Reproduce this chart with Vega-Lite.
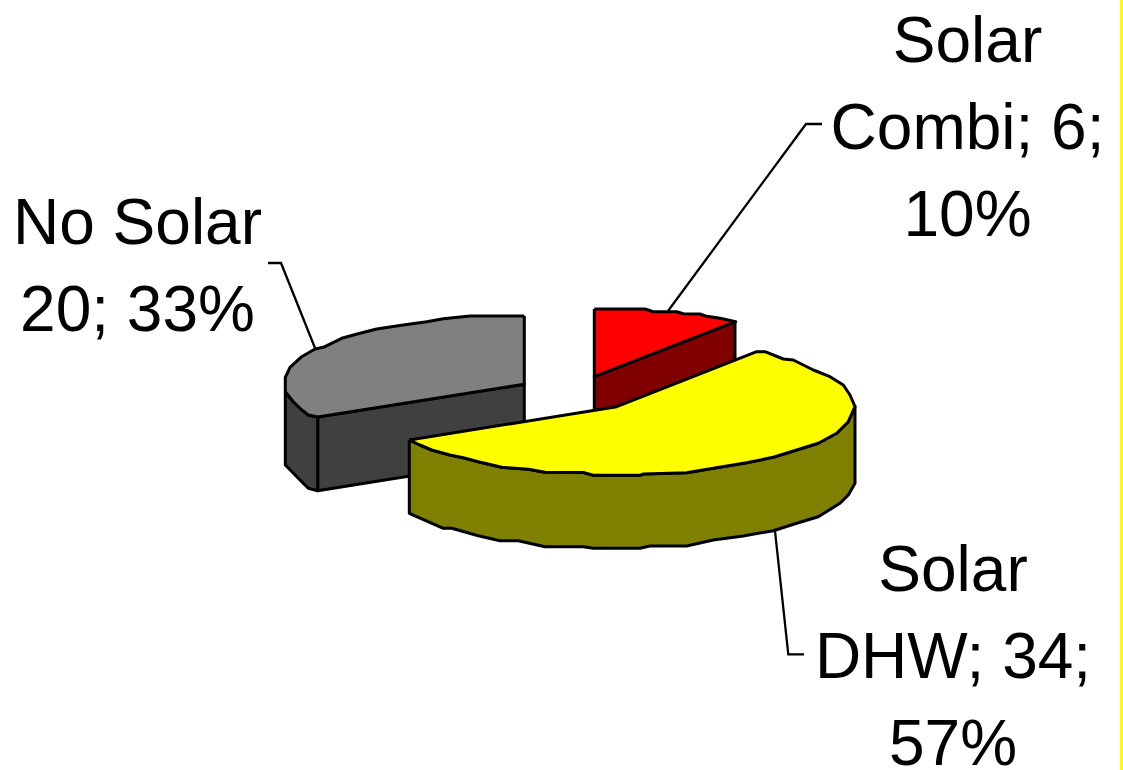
{
  "$schema": "https://vega.github.io/schema/vega-lite/v6.json",
  "autosize": {"type": "none"},
  "width": 1123,
  "height": 770,
  "padding": 0,
  "background": "white",
  "view": {"stroke": null},
  "datasets": {
    "faces": [
      {"face":"No Solar front","x":317.7,"y":417},{"face":"No Solar front","x":524.3,"y":384.3},{"face":"No Solar front","x":524.3,"y":457.7},{"face":"No Solar front","x":317.7,"y":490.7},{"face":"No Solar front","x":317.7,"y":417},

      {"face":"No Solar rim","x":285.3,"y":391.7},{"face":"No Solar rim","x":293.3,"y":401.7},{"face":"No Solar rim","x":300,"y":408.3},{"face":"No Solar rim","x":308.3,"y":415},{"face":"No Solar rim","x":317.7,"y":417},{"face":"No Solar rim","x":317.7,"y":490.7},{"face":"No Solar rim","x":308.3,"y":488.3},{"face":"No Solar rim","x":301.7,"y":481.7},{"face":"No Solar rim","x":285.3,"y":465},{"face":"No Solar rim","x":285.3,"y":391.7},

      {"face":"No Solar top","x":524.3,"y":316},{"face":"No Solar top","x":470,"y":316},{"face":"No Solar top","x":443.3,"y":318.7},{"face":"No Solar top","x":426.7,"y":321.7},{"face":"No Solar top","x":403.3,"y":325},{"face":"No Solar top","x":376.7,"y":329},{"face":"No Solar top","x":360,"y":333.3},{"face":"No Solar top","x":341.7,"y":338.3},{"face":"No Solar top","x":323.3,"y":347.3},{"face":"No Solar top","x":315,"y":349},{"face":"No Solar top","x":301.7,"y":356.7},{"face":"No Solar top","x":290,"y":367.3},{"face":"No Solar top","x":285.3,"y":377.3},{"face":"No Solar top","x":285.3,"y":391.7},{"face":"No Solar top","x":293.3,"y":401.7},{"face":"No Solar top","x":300,"y":408.3},{"face":"No Solar top","x":308.3,"y":415},{"face":"No Solar top","x":317.7,"y":417},{"face":"No Solar top","x":524.3,"y":384.3},{"face":"No Solar top","x":524.3,"y":316},

      {"face":"Solar Combi side","x":735,"y":321.7},{"face":"Solar Combi side","x":594.3,"y":376.7},{"face":"Solar Combi side","x":594.3,"y":450},{"face":"Solar Combi side","x":735,"y":394},{"face":"Solar Combi side","x":735,"y":321.7},

      {"face":"Solar Combi top","x":594.3,"y":309},{"face":"Solar Combi top","x":645,"y":309},{"face":"Solar Combi top","x":653.3,"y":311.7},{"face":"Solar Combi top","x":676.7,"y":311.7},{"face":"Solar Combi top","x":683.3,"y":313.7},{"face":"Solar Combi top","x":700,"y":314},{"face":"Solar Combi top","x":706.7,"y":316.3},{"face":"Solar Combi top","x":720,"y":318.3},{"face":"Solar Combi top","x":735.7,"y":321.7},{"face":"Solar Combi top","x":594.3,"y":376.7},{"face":"Solar Combi top","x":594.3,"y":309},

      {"face":"Solar DHW rim","x":409.3,"y":440},{"face":"Solar DHW rim","x":420,"y":445},{"face":"Solar DHW rim","x":431.7,"y":450},{"face":"Solar DHW rim","x":441.7,"y":452.7},{"face":"Solar DHW rim","x":450,"y":455},{"face":"Solar DHW rim","x":463.3,"y":457.7},{"face":"Solar DHW rim","x":478.3,"y":461.7},{"face":"Solar DHW rim","x":501.7,"y":467.3},{"face":"Solar DHW rim","x":528.3,"y":469.3},{"face":"Solar DHW rim","x":545,"y":472.3},{"face":"Solar DHW rim","x":583.3,"y":472.5},{"face":"Solar DHW rim","x":593.3,"y":475.3},{"face":"Solar DHW rim","x":640,"y":475.3},{"face":"Solar DHW rim","x":643.3,"y":474},{"face":"Solar DHW rim","x":686.7,"y":472.7},{"face":"Solar DHW rim","x":713.3,"y":468.3},{"face":"Solar DHW rim","x":746.7,"y":462.7},{"face":"Solar DHW rim","x":773.3,"y":457.3},{"face":"Solar DHW rim","x":796.7,"y":450},{"face":"Solar DHW rim","x":818.3,"y":443.3},{"face":"Solar DHW rim","x":836.7,"y":433.3},{"face":"Solar DHW rim","x":848.3,"y":421.7},{"face":"Solar DHW rim","x":855,"y":406.7},{"face":"Solar DHW rim","x":855,"y":483.3},{"face":"Solar DHW rim","x":848.3,"y":495},{"face":"Solar DHW rim","x":840,"y":503.3},{"face":"Solar DHW rim","x":818.3,"y":516.7},{"face":"Solar DHW rim","x":796.7,"y":523.3},{"face":"Solar DHW rim","x":773.3,"y":530.7},{"face":"Solar DHW rim","x":743.3,"y":536},{"face":"Solar DHW rim","x":713.3,"y":540},{"face":"Solar DHW rim","x":686.7,"y":546},{"face":"Solar DHW rim","x":650,"y":546},{"face":"Solar DHW rim","x":640,"y":548.3},{"face":"Solar DHW rim","x":593.3,"y":548.3},{"face":"Solar DHW rim","x":583.3,"y":546.7},{"face":"Solar DHW rim","x":545,"y":546.7},{"face":"Solar DHW rim","x":518.3,"y":540.7},{"face":"Solar DHW rim","x":500,"y":540.7},{"face":"Solar DHW rim","x":478.3,"y":535.7},{"face":"Solar DHW rim","x":451.7,"y":528.3},{"face":"Solar DHW rim","x":443.3,"y":528.3},{"face":"Solar DHW rim","x":409.3,"y":513.3},{"face":"Solar DHW rim","x":409.3,"y":440},

      {"face":"Solar DHW top","x":409.3,"y":440},{"face":"Solar DHW top","x":616.7,"y":406.7},{"face":"Solar DHW top","x":756.7,"y":351.7},{"face":"Solar DHW top","x":765,"y":351.7},{"face":"Solar DHW top","x":783.3,"y":359},{"face":"Solar DHW top","x":793.3,"y":360},{"face":"Solar DHW top","x":813.3,"y":370},{"face":"Solar DHW top","x":830,"y":376.7},{"face":"Solar DHW top","x":843.3,"y":385},{"face":"Solar DHW top","x":850,"y":395},{"face":"Solar DHW top","x":855,"y":406.7},{"face":"Solar DHW top","x":848.3,"y":421.7},{"face":"Solar DHW top","x":836.7,"y":433.3},{"face":"Solar DHW top","x":818.3,"y":443.3},{"face":"Solar DHW top","x":796.7,"y":450},{"face":"Solar DHW top","x":773.3,"y":457.3},{"face":"Solar DHW top","x":746.7,"y":462.7},{"face":"Solar DHW top","x":713.3,"y":468.3},{"face":"Solar DHW top","x":686.7,"y":472.7},{"face":"Solar DHW top","x":643.3,"y":474},{"face":"Solar DHW top","x":640,"y":475.3},{"face":"Solar DHW top","x":593.3,"y":475.3},{"face":"Solar DHW top","x":583.3,"y":472.5},{"face":"Solar DHW top","x":545,"y":472.3},{"face":"Solar DHW top","x":528.3,"y":469.3},{"face":"Solar DHW top","x":501.7,"y":467.3},{"face":"Solar DHW top","x":478.3,"y":461.7},{"face":"Solar DHW top","x":463.3,"y":457.7},{"face":"Solar DHW top","x":450,"y":455},{"face":"Solar DHW top","x":441.7,"y":452.7},{"face":"Solar DHW top","x":431.7,"y":450},{"face":"Solar DHW top","x":420,"y":445},{"face":"Solar DHW top","x":409.3,"y":440}
    ],
    "leaders": [
      {"slice":"No Solar","x":268,"y":263},{"slice":"No Solar","x":281,"y":263},{"slice":"No Solar","x":315,"y":348},
      {"slice":"Solar Combi","x":822,"y":124},{"slice":"Solar Combi","x":806,"y":124},{"slice":"Solar Combi","x":668,"y":311},
      {"slice":"Solar DHW","x":775,"y":531},{"slice":"Solar DHW","x":788.3,"y":654.3},{"slice":"Solar DHW","x":804,"y":654.3}
    ],
    "labels": [
      {"slice":"Solar Combi","count":6,"share":"10%","text":"Solar\nCombi; 6;\n10%","x":967.5,"y":62},
      {"slice":"No Solar","count":20,"share":"33%","text":"No Solar\n20; 33%","x":137.5,"y":244},
      {"slice":"Solar DHW","count":34,"share":"57%","text":"Solar\nDHW; 34;\n57%","x":953,"y":591}
    ],
    "frame": [{"x":1120,"x2":1123,"y":0,"y2":770}]
  },
  "layer": [
    {
      "data": {"name": "frame"},
      "mark": {"type": "rect", "fill": "#ffff00"},
      "encoding": {
        "x": {"field": "x", "type": "quantitative", "scale": {"domain": [0, 1123], "nice": false, "zero": false}, "axis": null},
        "x2": {"field": "x2"},
        "y": {"field": "y", "type": "quantitative", "scale": {"domain": [770, 0], "nice": false, "zero": false}, "axis": null},
        "y2": {"field": "y2"}
      }
    },
    {
      "data": {"name": "leaders"},
      "mark": {"type": "line", "stroke": "black", "strokeWidth": 2.3, "strokeJoin": "miter"},
      "encoding": {
        "x": {"field": "x", "type": "quantitative", "axis": null},
        "y": {"field": "y", "type": "quantitative", "axis": null},
        "detail": {"field": "slice"},
        "order": {"field": "seq"}
      },
      "transform": [{"window": [{"op": "row_number", "as": "seq"}], "groupby": ["slice"]}]
    },
    {
      "data": {"name": "faces"},
      "transform": [{"window": [{"op": "row_number", "as": "seq"}], "groupby": ["face"]}],
      "mark": {"type": "line", "filled": true, "stroke": "black", "strokeWidth": 3, "strokeJoin": "round"},
      "encoding": {
        "x": {"field": "x", "type": "quantitative", "axis": null},
        "y": {"field": "y", "type": "quantitative", "axis": null},
        "order": {"field": "seq"},
        "fill": {
          "field": "face",
          "type": "nominal",
          "legend": null,
          "sort": null,
          "scale": {
            "domain": ["No Solar front","No Solar rim","No Solar top","Solar Combi side","Solar Combi top","Solar DHW rim","Solar DHW top"],
            "range": ["#404040","#404040","#808080","#800000","#ff0000","#808000","#ffff00"]
          }
        },
        "detail": {"field": "face"}
      }
    },
    {
      "data": {"name": "labels"},
      "mark": {"type": "text", "font": "Liberation Sans", "fontSize": 64, "lineHeight": 87, "lineBreak": "\n", "align": "center", "baseline": "alphabetic", "color": "black"},
      "encoding": {
        "x": {"field": "x", "type": "quantitative", "axis": null},
        "y": {"field": "y", "type": "quantitative", "axis": null},
        "text": {"field": "text", "type": "nominal"}
      }
    }
  ]
}
